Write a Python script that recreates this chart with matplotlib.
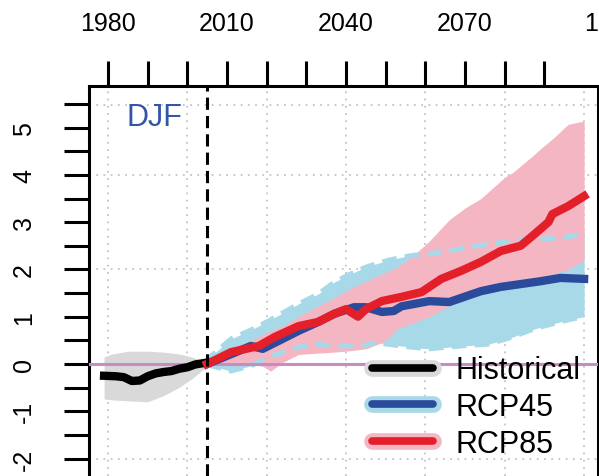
import matplotlib
matplotlib.use('Agg')
import matplotlib.pyplot as plt
from matplotlib.lines import Line2D

plt.rcParams.update({
    'font.family': ['Liberation Sans', 'DejaVu Sans'],
    'font.size': 18,
})

GRAY_BAND = "#D9D9D9"
BLUE_BAND = "#A8D9E9"
PINK_BAND = "#F5B6C3"
BLUE_LINE = "#2A4A9B"
RED_LINE = "#E3202A"
ZERO_LINE = "#C98BC4"
GRID = "#C4C4C4"

# historical (ensemble mean and range)
hist_years = [1979, 1982, 1984, 1986, 1988, 1990, 1992, 1994, 1996, 1998, 2000, 2002, 2005]
hist_mean = [-0.25, -0.26, -0.28, -0.36, -0.35, -0.26, -0.20, -0.17, -0.15, -0.10, -0.07, -0.01, 0.03]
hist_band_years = [1979, 1981, 1985, 1990, 1994, 1998, 2001, 2005]
hist_upper = [0.15, 0.21, 0.27, 0.27, 0.25, 0.21, 0.15, 0.03]
hist_lower = [-0.74, -0.76, -0.78, -0.80, -0.67, -0.49, -0.32, -0.05]

# RCP4.5
rcp45_years = [2005, 2016, 2019, 2024, 2028, 2033, 2037, 2042, 2045, 2049,
               2052, 2054, 2061, 2066, 2074, 2079, 2084, 2089, 2094, 2100]
rcp45_mean = [0.0, 0.38, 0.32, 0.53, 0.70, 0.89, 1.06, 1.20, 1.20, 1.10,
              1.12, 1.22, 1.33, 1.31, 1.54, 1.63, 1.69, 1.75, 1.82, 1.80]
rcp45_band_years = [2005, 2006, 2011, 2016, 2020, 2024, 2028, 2033, 2037, 2041,
                    2045, 2048, 2050, 2054, 2057, 2061, 2065, 2069, 2076, 2082,
                    2086, 2089, 2094, 2097, 2100]
rcp45_upper = [0.0, 0.17, 0.53, 0.72, 0.89, 1.08, 1.27, 1.48, 1.73, 1.90,
               2.05, 2.13, 2.18, 2.26, 2.30, 2.33, 2.38, 2.44, 2.54, 2.60,
               2.62, 2.64, 2.67, 2.70, 2.79]
rcp45_lower = [0.0, -0.04, -0.15, -0.04, 0.12, 0.25, 0.36, 0.42, 0.38, 0.38,
               0.40, 0.46, 0.42, 0.38, 0.35, 0.32, 0.35, 0.38, 0.42, 0.57,
               0.70, 0.78, 0.89, 0.95, 1.00]

# RCP8.5
rcp85_years = [2005, 2011, 2018, 2022, 2028, 2033, 2037, 2040, 2043, 2045, 2049, 2054,
               2059, 2064, 2069, 2074, 2079, 2084, 2087, 2091, 2092, 2096, 2100]
rcp85_mean = [0.0, 0.25, 0.38, 0.57, 0.80, 0.89, 1.06, 1.16, 1.00, 1.16, 1.33, 1.42,
              1.52, 1.80, 1.97, 2.16, 2.39, 2.50, 2.71, 3.00, 3.17, 3.34, 3.55]
rcp85_band_years = [2005, 2006, 2011, 2016, 2019, 2021, 2024, 2028, 2033, 2037,
                    2041, 2045, 2049, 2050, 2053, 2057, 2061, 2066, 2070, 2074,
                    2080, 2082, 2087, 2089, 2092, 2096, 2100]
rcp85_upper = [0.0, 0.15, 0.35, 0.49, 0.62, 0.70, 0.80, 1.00, 1.23, 1.40,
               1.59, 1.75, 1.90, 1.94, 2.05, 2.30, 2.60, 3.05, 3.30, 3.50,
               3.95, 4.05, 4.40, 4.55, 4.76, 5.07, 5.14]
rcp85_lower = [0.0, 0.0, 0.02, 0.0, -0.05, -0.15, 0.03, 0.20, 0.23, 0.25,
               0.28, 0.32, 0.45, 0.50, 0.75, 0.87, 1.00, 1.23, 1.38, 1.52,
               1.58, 1.60, 1.72, 1.80, 1.90, 2.00, 2.20]

x_ticks = list(range(1980, 2091, 10))
x_labels = ['1980', '', '', '2010', '', '', '2040', '', '', '2070', '', '']
y_ticks = [v / 2 for v in range(-4, 12)]
y_labels = [str(int(v)) if v == int(v) else '' for v in y_ticks]

W, H = 599, 477
fig = plt.figure(figsize=(W / 100, H / 100), dpi=100)
ax = fig.add_axes([89 / W, 0, (598 - 89) / W, (H - 87) / H])
ax.set_xlim(1975.2, 2103.5)
ax.set_ylim(-2.37, 5.88)

# dotted grid
for gx in [1980, 2000, 2020, 2040, 2060, 2080, 2100]:
    ax.axvline(gx, color=GRID, lw=1.3, linestyle=(0, (1, 3)), zorder=0)
for gy in [-2, 0, 2, 4, 5.47]:
    ax.axhline(gy, color=GRID, lw=1.3, linestyle=(0, (1, 3)), zorder=0)

ax.fill_between(hist_band_years, hist_lower, hist_upper, color=GRAY_BAND, lw=0, zorder=1)
ax.fill_between(rcp45_band_years, rcp45_lower, rcp45_upper, color=BLUE_BAND, lw=0, zorder=1)
ax.fill_between(rcp85_band_years, rcp85_lower, rcp85_upper, color=PINK_BAND, lw=0, zorder=2)
for edge in (rcp45_upper, rcp45_lower):
    ax.plot(rcp45_band_years, edge, color=BLUE_BAND, lw=3.5, dashes=(3, 1.7), zorder=3)

ax.axhline(0, color=ZERO_LINE, lw=2.2, zorder=4)
ax.plot(hist_years, hist_mean, color='black', lw=6, zorder=5)
ax.plot(rcp45_years, rcp45_mean, color=BLUE_LINE, lw=6, zorder=5)
ax.plot(rcp85_years, rcp85_mean, color=RED_LINE, lw=6, zorder=6)
ax.axvline(2005, color='black', lw=2.2, dashes=(4, 2), zorder=7)

fig.text(154 / W, 1 - 118 / H, 'DJF', fontsize=22, color='#3355A8',
         ha='center', va='center')

# axes styling (R-like)
for side in ('top', 'left', 'right'):
    ax.spines[side].set_linewidth(2.2)
ax.spines['bottom'].set_visible(False)
ax.xaxis.set_ticks_position('top')
ax.set_xticks(x_ticks)
ax.set_xticklabels(x_labels)
ax.set_yticks(y_ticks)
ax.set_yticklabels(y_labels)
ax.tick_params(axis='x', direction='out', length=18, width=2.2, pad=19, labelsize=18)
ax.tick_params(axis='y', direction='out', length=18, width=2.2, pad=20, labelsize=18,
               labelrotation=90)
for lab in ax.get_yticklabels():
    lab.set_va('center')
fig.text(598 / W, 1 - 24 / H, '1', ha='right', va='center', fontsize=18)

handles = [
    (Line2D([0], [0], color=GRAY_BAND, lw=12, solid_capstyle='round'),
     Line2D([0], [0], color='black', lw=5.5, solid_capstyle='round')),
    (Line2D([0], [0], color=BLUE_BAND, lw=12, solid_capstyle='round'),
     Line2D([0], [0], color=BLUE_LINE, lw=5.5, solid_capstyle='round')),
    (Line2D([0], [0], color=PINK_BAND, lw=12, solid_capstyle='round'),
     Line2D([0], [0], color=RED_LINE, lw=5.5, solid_capstyle='round')),
]
ax.legend(handles, ['Historical', 'RCP45', 'RCP85'], loc='upper left',
          bbox_to_anchor=(357 / W, 1 - 341 / H), bbox_transform=fig.transFigure,
          frameon=False, fontsize=22, borderpad=0, handlelength=2.0,
          handletextpad=0.72, labelspacing=0.22)

fig.savefig('out.png', dpi=100)
